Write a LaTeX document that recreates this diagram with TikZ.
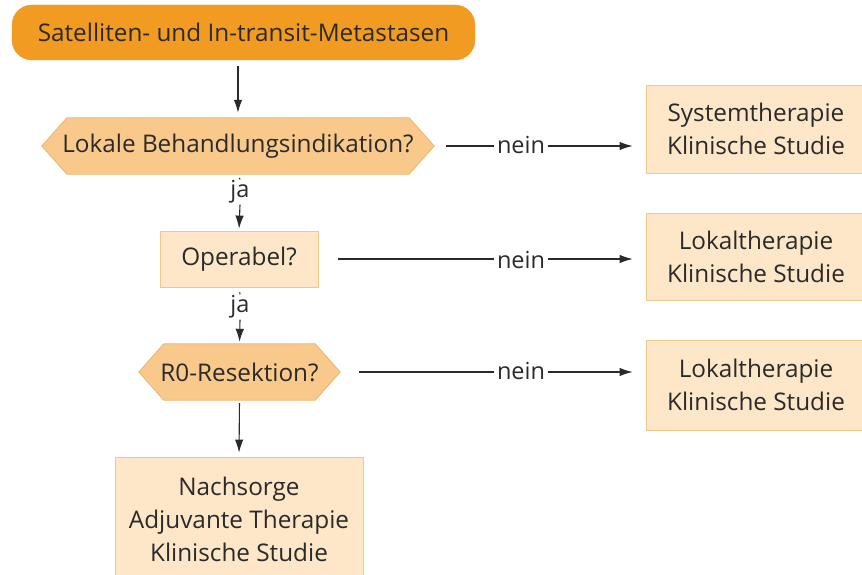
\documentclass[tikz,border=0pt]{standalone}
\usepackage{fontspec}
\setmainfont{Open Sans}
\usetikzlibrary{arrows.meta,calc,backgrounds}
\definecolor{txt}{HTML}{2A2A2A}
\definecolor{topfill}{HTML}{F29B22}
\definecolor{hexfill}{HTML}{F8C98A}
\definecolor{hexline}{HTML}{EDB56C}
\definecolor{boxfill}{HTML}{FDE7C8}
\definecolor{boxline}{HTML}{EFC88C}
\tikzset{
  lbl/.style={font=\fontsize{24.3}{33}\selectfont, text=txt, align=center},
  topbox/.style={lbl, fill=topfill, draw=topfill, rounded corners=20pt, inner sep=0pt},
  hexbox/.style={lbl, inner sep=0pt},
  hexshape/.style={fill=hexfill, draw=hexline, line width=0.8pt},
  plainbox/.style={lbl, fill=boxfill, draw=boxline, line width=0.8pt, inner sep=0pt},
  edgelbl/.style={font=\fontsize{23.5}{26}\selectfont, text=txt, inner sep=3pt},
  conn/.style={draw=txt, line width=1.1pt},
  arr/.style={conn, -{Latex[length=13pt,width=8.5pt]}}
}
\begin{document}
\begin{tikzpicture}[x=1pt,y=-1pt]
\useasboundingbox (0,0) rectangle (862,575);
\clip (0,0) rectangle (862,575);
\node[topbox, minimum width=463pt, minimum height=55pt] (top) at (243.5,32.5) {Satelliten- und In-transit-Metastasen};
\node[hexbox, minimum width=392pt, minimum height=56pt] (h1) at (238,146) {Lokale Behandlungsindikation?};
\node[plainbox, minimum width=158pt, minimum height=56pt] (op) at (239,259) {Operabel?};
\node[hexbox, minimum width=201pt, minimum height=56pt] (h2) at (239.5,372) {R0-Resektion?};
\node[plainbox, minimum width=220pt, minimum height=88pt] (r1) at (756,129) {Systemtherapie\\Klinische Studie};
\node[plainbox, minimum width=220pt, minimum height=87pt] (r2) at (756,256.5) {Lokaltherapie\\Klinische Studie};
\node[plainbox, minimum width=220pt, minimum height=90pt] (r3) at (756,385) {Lokaltherapie\\Klinische Studie};
\node[plainbox, minimum width=248pt, minimum height=125pt] (bot) at (239,519.5) {Nachsorge\\Adjuvante Therapie\\Klinische Studie};
\begin{scope}[on background layer]
\foreach \h in {h1,h2}{
  \path[hexshape] (\h.west) -- ($(\h.north west)+(25,0)$) -- ($(\h.north east)+(-25,0)$) -- (\h.east)
    -- ($(\h.south east)+(-25,0)$) -- ($(\h.south west)+(25,0)$) -- cycle;
}
\end{scope}
% labels
\node[edgelbl] (n1) at (521,145) {nein};
\node[edgelbl] (n2) at (521,260) {nein};
\node[edgelbl] (n3) at (521,371) {nein};
\node[edgelbl, inner sep=1pt] (j1) at (240,192) {ja};
\node[edgelbl, inner sep=1pt] (j2) at (240,307) {ja};
% connectors
\draw[arr, shorten <=6pt, shorten >=5pt] (top.south -| h1.north) -- (h1.north);
\draw[conn, shorten <=4pt] (h1.south) -- (j1.north);
\draw[arr, shorten >=2pt] (j1.south) -- (op.north);
\draw[conn, shorten <=5pt] (op.south) -- (j2.north);
\draw[arr, shorten >=2pt] (j2.south) -- (h2.north);
\draw[arr, shorten <=3pt, shorten >=4pt] (h2.south) -- (bot.north);
\draw[conn, shorten <=12pt] (h1.east) -- (h1.east -| n1.west);
\draw[arr, shorten >=13pt] (h1.east -| n1.east) -- (h1.east -| r1.west);
\draw[conn, shorten <=20pt] (op.east) -- (op.east -| n2.west);
\draw[arr, shorten >=13pt] (op.east -| n2.east) -- (op.east -| r2.west);
\draw[conn, shorten <=19pt] (h2.east) -- (h2.east -| n3.west);
\draw[arr, shorten >=13pt] (h2.east -| n3.east) -- (h2.east -| r3.west);
\end{tikzpicture}
\end{document}
